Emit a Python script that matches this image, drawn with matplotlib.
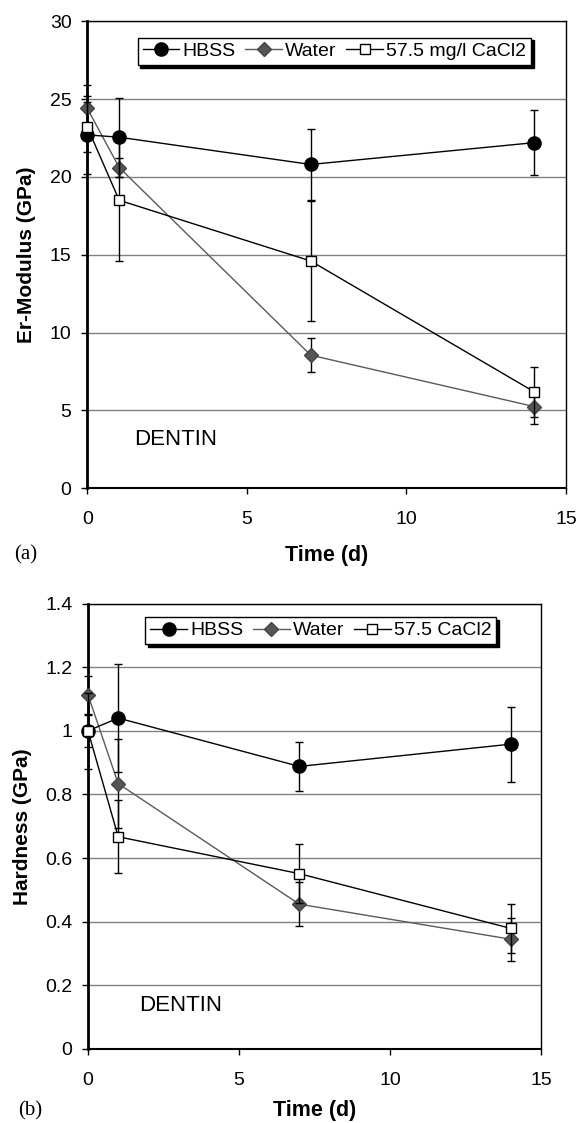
import matplotlib.pyplot as plt
from matplotlib.lines import Line2D

plt.rcParams["font.family"] = ["Liberation Sans", "DejaVu Sans"]

time_d = [0, 1, 7, 14]

# Panel (a): Er-Modulus (GPa)
er_hbss = [22.7, 22.55, 20.8, 22.2]
er_hbss_err = [2.5, 2.55, 2.3, 2.1]
er_water = [24.4, 20.6, 8.55, 5.25]
er_water_err = [1.5, 0.6, 1.1, 1.1]
er_cacl2 = [23.2, 18.5, 14.6, 6.2]
er_cacl2_err = [1.6, 3.9, 3.85, 1.6]

# Panel (b): Hardness (GPa)
h_hbss = [1.0, 1.04, 0.888, 0.958]
h_hbss_err = [0.12, 0.17, 0.078, 0.118]
h_water = [1.113, 0.834, 0.455, 0.345]
h_water_err = [0.06, 0.14, 0.07, 0.068]
h_cacl2 = [1.0, 0.667, 0.551, 0.379]
h_cacl2_err = [0.05, 0.115, 0.093, 0.077]

styles = [
    dict(color="black", marker="o", markersize=9.5, markerfacecolor="black",
         markeredgecolor="black", zorder=4),
    dict(color="#5a5a5a", marker="D", markersize=7, markerfacecolor="#555555",
         markeredgecolor="#444444", zorder=3),
    dict(color="black", marker="s", markersize=7, markerfacecolor="white",
         markeredgecolor="black", zorder=5),
]


def draw_panel(ax, series, labels, labelpad):
    handles = []
    for (vals, errs), st, lab in zip(series, styles, labels):
        _, caps, bars = ax.errorbar(time_d, vals, yerr=errs, ecolor="black",
                                    linewidth=1, capsize=2.6, elinewidth=1,
                                    **st)
        for c in caps:
            c.set_clip_on(False)
        for b in bars:
            b.set_clip_on(False)
        handles.append(Line2D([], [], linewidth=1,
                              **{k: v for k, v in st.items() if k != "zorder"},
                              label=lab))
    for ln in ax.lines:
        ln.set_clip_on(False)
    ax.set_xlim(0, 15)
    ax.set_xticks([0, 5, 10, 15])
    ax.grid(axis="y", color="#808080", linewidth=1)
    ax.set_axisbelow(True)
    ax.tick_params(direction="out", labelsize=14, length=4.3, width=1)
    ax.tick_params(axis="x", pad=12)
    ax.tick_params(axis="y", pad=7)
    for s in ax.spines.values():
        s.set_linewidth(1)
    ax.spines["left"].set_linewidth(2)
    ax.spines["bottom"].set_linewidth(1.5)
    ax.set_xlabel("Time (d)", fontsize=15.5, fontweight="bold",
                  labelpad=labelpad)
    return handles


def add_legend(ax, handles, xc, ytop):
    ax.legend(handles=handles, loc="upper center", bbox_to_anchor=(xc, ytop),
              ncol=3, fontsize=14, frameon=True, fancybox=False,
              shadow={"color": "black", "alpha": 1}, edgecolor="black",
              framealpha=1, handlelength=1.9, handletextpad=0.15,
              columnspacing=0.5, borderpad=0.25, borderaxespad=0,
              numpoints=1, markerscale=1.0)


fig = plt.figure(figsize=(5.77, 11.23), dpi=100)

ax1 = fig.add_axes([0.1513, 0.5652, 0.8297, 0.4159])
h1 = draw_panel(ax1, [(er_hbss, er_hbss_err), (er_water, er_water_err),
                      (er_cacl2, er_cacl2_err)],
                ["HBSS", "Water", "57.5 mg/l CaCl2"], 12)
ax1.set_ylim(0, 30)
ax1.set_yticks([0, 5, 10, 15, 20, 25, 30])
ax1.set_ylabel("Er-Modulus (GPa)", fontsize=15, fontweight="bold")
ax1.yaxis.set_label_coords(-0.108, 0.5)
ax1.text(1.47, 3.15, "DENTIN", fontsize=16, va="center")
add_legend(ax1, h1, 0.516, 0.965)
fig.text(0.024, 0.506, "(a)", fontsize=15, family="Liberation Serif",
         va="center")

ax2 = fig.add_axes([0.1525, 0.0659, 0.785, 0.3967])
h2 = draw_panel(ax2, [(h_hbss, h_hbss_err), (h_water, h_water_err),
                      (h_cacl2, h_cacl2_err)],
                ["HBSS", "Water", "57.5 CaCl2"], 8)
ax2.set_ylim(0, 1.4)
ax2.set_yticks([0, 0.2, 0.4, 0.6, 0.8, 1.0, 1.2, 1.4])
ax2.set_yticklabels(["0", "0.2", "0.4", "0.6", "0.8", "1", "1.2", "1.4"])
ax2.set_ylabel("Hardness (GPa)", fontsize=15, fontweight="bold")
ax2.yaxis.set_label_coords(-0.124, 0.5)
ax2.text(1.7, 0.1375, "DENTIN", fontsize=16, va="center")
add_legend(ax2, h2, 0.514, 0.970)
fig.text(0.031, 0.011, "(b)", fontsize=15, family="Liberation Serif",
         va="center")

plt.savefig("out.png", dpi=100)
